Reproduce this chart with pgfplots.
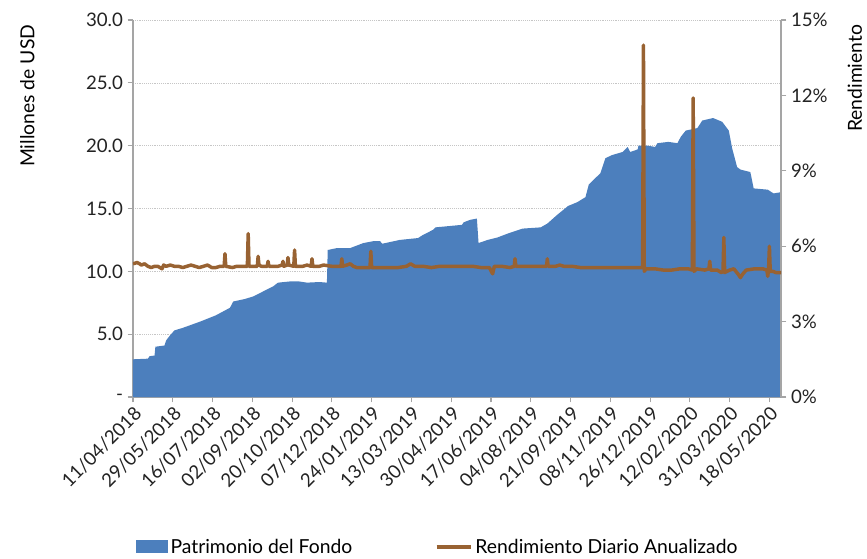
\documentclass[border=0pt]{standalone}
\usepackage{fontspec}
\setmainfont{Lato}
\usepackage{pgfplots}
\pgfplotsset{compat=1.18}
\definecolor{fondo}{RGB}{76,127,189}
\definecolor{rend}{RGB}{152,98,50}
\definecolor{ejes}{RGB}{165,165,165}
\definecolor{texto}{RGB}{35,35,35}

\begin{document}
\begin{tikzpicture}
\path[use as bounding box] (-99.75pt,-120.75pt) rectangle (550.5pt,297.75pt);
\pgfplotsset{
  base/.style={
    at={(0,0)}, anchor=south west,
    width=486pt, height=282.75pt, scale only axis,
    xmin=0, xmax=782,
    axis line style={ejes, line width=0.8pt},
    tick style={ejes, line width=0.8pt},
    tick align=outside, major tick length=4pt,
    tick label style={font=\fontsize{14}{16}\selectfont, text=texto},
    label style={font=\fontsize{14.5}{16}\selectfont, text=black},
  },
}
\begin{axis}[base,
  ymin=0, ymax=30,
  axis x line*=bottom, axis y line*=left,
  xtick={0,48,...,768},
  xticklabels={11/04/2018,29/05/2018,16/07/2018,02/09/2018,20/10/2018,07/12/2018,24/01/2019,13/03/2019,30/04/2019,17/06/2019,04/08/2019,21/09/2019,08/11/2019,26/12/2019,12/02/2020,31/03/2020,18/05/2020},
  xticklabel style={rotate=45, anchor=north east, inner sep=1.5pt},
  ytick={0,5,...,30},
  yticklabels={-,5.0,10.0,15.0,20.0,25.0,30.0},
  ymajorgrids, grid style={densely dotted, gray!45, line width=0.5pt},
  ylabel={Millones de USD},
  ylabel style={at={(axis description cs:-0.163,1)}, anchor=east},
  legend style={at={(axis description cs:0.004,-0.398)}, anchor=west,
    draw=none, fill=none, legend columns=2, inner sep=0pt,
    font=\fontsize{14.5}{16}\selectfont,
    /tikz/every even column/.append style={column sep=60pt}},
  legend cell align=left,
]
\addplot[fill=fondo, draw=none,
  legend image code/.code={\fill[fondo] (0pt,-4.5pt) rectangle (24pt,5pt);}]
coordinates {
(0,3.0) (18,3.05) (20,3.25) (26,3.3) (27,4.0) (38,4.1) (40,4.5) (44,4.85)
(50,5.3) (60,5.5) (81,6.0) (100,6.5) (117,7.1) (121,7.6) (135,7.8) (145,8.0)
(157,8.4) (169,8.8) (175,9.1) (190,9.2) (200,9.2) (210,9.1) (225,9.15) (234,9.1)
(235,11.7) (246,11.85) (262,11.85) (268,12.0) (278,12.25) (290,12.4) (298,12.4)
(301,12.2) (322,12.5) (344,12.65) (350,12.9) (362,13.3) (365,13.5) (397,13.7)
(399,13.9) (407,14.1) (415,14.2) (417,12.25) (428,12.5) (440,12.7) (452,13.0)
(470,13.4) (492,13.5) (500,13.8) (512,14.5) (525,15.2) (536,15.5) (546,15.9)
(550,16.9) (556,17.3) (564,17.8) (570,19.0) (578,19.25) (591,19.5) (597,19.9)
(600,19.5) (609,19.7) (610,20.0) (621,20.0) (630,19.9) (633,20.2) (646,20.3)
(657,20.2) (661,20.7) (667,21.2) (681,21.4) (687,22.0) (700,22.2) (711,21.9)
(719,21.2) (723,19.8) (729,18.3) (733,18.1) (745,17.9) (749,16.6) (766,16.5)
(773,16.2) (782,16.3)
} \closedcycle;
\addlegendentry{Patrimonio del Fondo}
\addlegendimage{legend image code/.code={\draw[rend, line width=2.4pt] (0pt,0pt) -- (26pt,0pt);}}
\addlegendentry{Rendimiento Diario Anualizado}
\end{axis}

\begin{axis}[base,
  ymin=0, ymax=15,
  axis x line=none, axis y line*=right,
  ytick={0,3,...,15},
  yticklabels={0\%,3\%,6\%,9\%,12\%,15\%},
  ylabel={Rendimiento},
  ylabel style={at={(axis description cs:1.114,1)}, anchor=east},
]
\addplot[rend, line width=2.6pt, line join=round] coordinates {
(0,5.3) (5,5.35) (8,5.3) (10,5.25) (14,5.3) (18,5.2) (22,5.15) (26,5.2) (30,5.2)
(35,5.1) (37,5.25) (40,5.2) (45,5.25) (50,5.2) (55,5.2) (60,5.15) (65,5.2)
(70,5.25) (75,5.2) (80,5.15) (85,5.2) (90,5.25) (95,5.15) (100,5.15) (105,5.2)
(110,5.2) (111,5.7) (112,5.2) (120,5.15) (125,5.2) (130,5.2) (138,5.2) (139,6.5)
(140,5.2) (145,5.2) (150,5.2) (151,5.6) (152,5.25) (155,5.2) (162,5.2) (163,5.4)
(164,5.2) (175,5.2) (180,5.25) (181,5.4) (182,5.2) (186,5.25) (187,5.55)
(188,5.25) (194,5.2) (195,5.85) (196,5.2) (205,5.2) (210,5.25) (215,5.2)
(216,5.5) (217,5.2) (225,5.2) (230,5.25) (240,5.2) (251,5.2) (252,5.5) (253,5.2)
(258,5.25) (262,5.3) (266,5.2) (270,5.15) (280,5.15) (286,5.15) (287,5.8)
(288,5.15) (300,5.15) (310,5.15) (320,5.15) (330,5.2) (335,5.3) (340,5.2)
(350,5.2) (360,5.15) (370,5.2) (380,5.2) (390,5.2) (400,5.2) (410,5.2)
(420,5.15) (430,5.15) (434,4.9) (436,5.2) (445,5.2) (455,5.15) (460,5.2)
(461,5.5) (462,5.2) (470,5.2) (480,5.2) (490,5.2) (499,5.2) (500,5.5) (501,5.2)
(510,5.2) (515,5.25) (520,5.2) (530,5.2) (540,5.15) (560,5.15) (580,5.15)
(600,5.15) (615,5.15) (616,14.0) (617,5.0) (619,5.1) (630,5.1) (640,5.05)
(650,5.05) (660,5.1) (670,5.1) (675,5.05) (676,11.9) (677,5.0) (680,5.1)
(690,5.05) (695,5.1) (696,5.4) (697,5.05) (705,5.05) (710,4.95) (712,5.0)
(713,6.35) (714,4.95) (720,5.05) (725,5.1) (730,4.9) (733,4.75) (736,4.9)
(740,5.05) (750,5.1) (760,5.1) (765,5.05) (766,4.8) (767,5.1) (768,6.0)
(769,5.0) (772,5.0) (776,4.95) (782,4.95)
};
\end{axis}
\end{tikzpicture}
\end{document}
